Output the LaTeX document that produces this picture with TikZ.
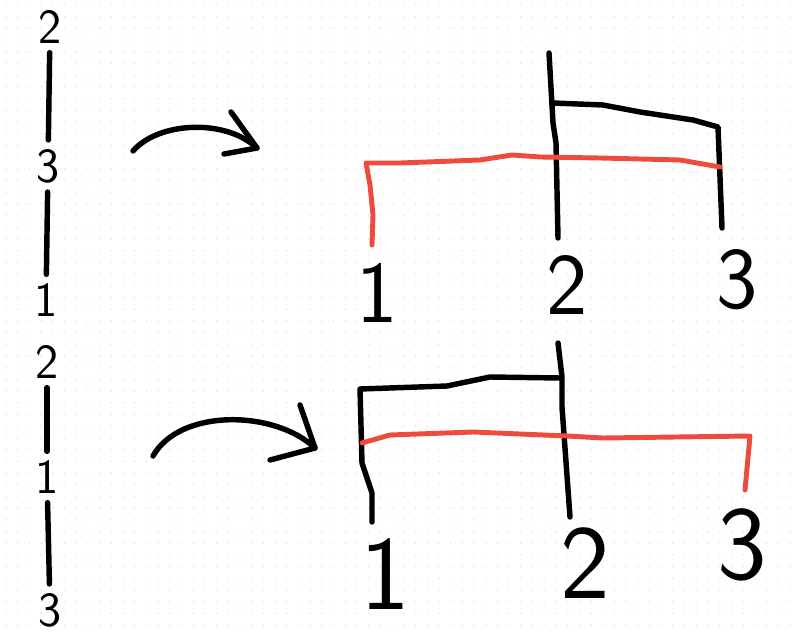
\documentclass[tikz,border=0pt]{standalone}
\usepackage{fontspec}
\usepackage{tikz}
\usetikzlibrary{calc}

\definecolor{cutred}{HTML}{EE4B3E}
\definecolor{griddot}{HTML}{E6E6E6}

\begin{document}
\begin{tikzpicture}[x=0.02cm, y=-0.02cm]

        % Styles for the strokes and the leaf labels
        \tikzset{
            link/.style={line width=3.1pt, line cap=round, line join=round},
            cut/.style={link, line width=2.8pt, draw=cutred},
            leaf/.style={font=\sffamily\fontsize{50}{50}\selectfont, inner sep=0pt},
            bigleaf/.style={font=\sffamily\fontsize{60}{60}\selectfont, inner sep=0pt},
            chainlbl/.style={font=\sffamily\fontsize{28}{28}\selectfont, inner sep=5pt}
        }

        % Page size, with the faint dotted paper behind
        \useasboundingbox[fill=white] (0, 0) rectangle (800, 634);
        \foreach \i in {0,...,68}
            \foreach \j in {0,...,54}
                \fill[griddot] (\i*11.7+6, \j*11.7+5) circle (0.5pt);

        % Upper half: chain 2 - 3 - 1
        \begin{scope}
            \node[chainlbl] (tc2) at (50, 27) {2};
            \node[chainlbl] (tc3) at (48, 166) {3};
            \node[chainlbl] (tc1) at (46, 300) {1};

            \draw[link] (tc2) -- (tc3);
            \draw[link] (tc3) -- (tc1);

            % curved arrow with an open head
            \coordinate (TA1) at (133, 151);
            \coordinate (TA2) at (257, 148);
            \coordinate (TH1) at (231, 112);
            \coordinate (TH2) at (224, 154);
            \draw[link] (TA1) .. controls (158, 122) and (225, 118) .. (TA2);
            \draw[link] (TH1) -- (TA2) -- (TH2);

            \node[leaf] (tl1) at (377, 293) {1};
            \node[leaf] (tl2) at (567, 285) {2};
            \node[leaf] (tl3) at (737, 280) {3};
        \end{scope}

        % Upper dendrogram, 2 and 3 joined first
        \begin{scope}
            \draw[link] (549, 53) -- (553, 123) -- (556, 143) -- (558, 238);
            \draw[link] (553, 103) -- (603, 105) -- (640, 112)
                -- (693, 120) -- (718, 127) -- (722, 228);
            \draw[cut] (372, 245) -- (373, 215) -- (370, 185) -- (366, 163)
                -- (400, 163) -- (480, 160) -- (512, 155) -- (540, 157)
                -- (600, 158) -- (680, 160) -- (720, 167);
        \end{scope}

        % Lower half: chain 2 - 1 - 3
        \begin{scope}
            \node[chainlbl] (bc2) at (47, 362) {2};
            \node[chainlbl] (bc1) at (47, 477) {1};
            \node[chainlbl] (bc3) at (50, 610) {3};

            \draw[link] (bc2) -- (bc1);
            \draw[link] (bc1) -- (bc3);

            % curved arrow with an open head
            \coordinate (BA1) at (153, 456);
            \coordinate (BA2) at (315, 448);
            \coordinate (BH1) at (300, 405);
            \coordinate (BH2) at (270, 460);
            \draw[link] (BA1) .. controls (180, 408) and (275, 410) .. (BA2);
            \draw[link] (BH1) -- (BA2) -- (BH2);

            \node[bigleaf] (bl1) at (385, 574) {1};
            \node[bigleaf] (bl2) at (585, 563) {2};
            \node[bigleaf] (bl3) at (742, 545) {3};
        \end{scope}

        % Lower dendrogram, 1 and 2 joined first
        \begin{scope}
            \draw[link] (558, 343) -- (562, 377) -- (562, 407) -- (570, 517);
            \draw[link] (560, 378) -- (490, 377) -- (447, 386) -- (360, 389)
                -- (362, 463) -- (372, 493) -- (372, 522);
            \draw[cut] (362, 443) -- (390, 435) -- (473, 432) -- (567, 436)
                -- (603, 438) -- (750, 436) -- (745, 490);
        \end{scope}

\end{tikzpicture}
\end{document}
